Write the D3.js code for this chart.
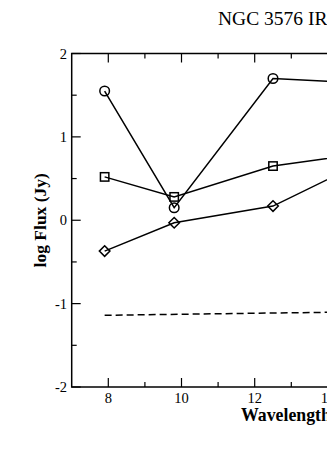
<!DOCTYPE html>
<html><head><meta charset="utf-8">
<script src="https://cdn.jsdelivr.net/npm/d3@7"></script>
<style>html,body{margin:0;padding:0;background:#fff;overflow:hidden}</style>
</head><body>
<svg id="c" width="327" height="459"></svg>
<script>
const wavelengths = [7.9, 9.8, 12.5, 14.65];
const circleSeries = [1.55, 0.15, 1.70, 1.65];
const squareSeries = [0.52, 0.28, 0.65, 0.78];
const diamondSeries = [-0.37, -0.03, 0.17, 0.63];
const dashedX = [7.9, 14.65];
const dashedSeries = [-1.14, -1.10];
const xMajorTicks = [8, 10, 12, 14, 16, 18, 20];
const xMinorTicks = [9, 11, 13, 15, 17, 19];
const yMajorTicks = [-2, -1, 0, 1, 2];
const yMinorTicks = [-1.5, -0.5, 0.5, 1.5];

const svg = d3.select("#c");
const x = d3.scaleLinear().domain([7, 20]).range([71.7, 71.7 + 13 * 36.6]);
const y = d3.scaleLinear().domain([-2, 2]).range([387, 53.5]);
const font = "'Liberation Serif', 'Times New Roman', serif";

// frame
svg.append("rect").attr("x", x(7)).attr("y", y(2)).attr("width", x(20) - x(7)).attr("height", y(-2) - y(2))
  .attr("fill", "none").attr("stroke", "#000").attr("stroke-width", 1.5);

// ticks inward
const tk = svg.append("g").attr("stroke", "#000").attr("stroke-width", 1.2);
xMajorTicks.forEach(v => {
  tk.append("line").attr("x1", x(v)).attr("x2", x(v)).attr("y1", y(-2)).attr("y2", y(-2) - 9);
  tk.append("line").attr("x1", x(v)).attr("x2", x(v)).attr("y1", y(2)).attr("y2", y(2) + 9);
});
xMinorTicks.forEach(v => {
  tk.append("line").attr("x1", x(v)).attr("x2", x(v)).attr("y1", y(-2)).attr("y2", y(-2) - 5);
  tk.append("line").attr("x1", x(v)).attr("x2", x(v)).attr("y1", y(2)).attr("y2", y(2) + 5);
});
yMajorTicks.forEach(v => {
  tk.append("line").attr("x1", x(7)).attr("x2", x(7) + 9).attr("y1", y(v)).attr("y2", y(v));
});
yMinorTicks.forEach(v => {
  tk.append("line").attr("x1", x(7)).attr("x2", x(7) + 5).attr("y1", y(v)).attr("y2", y(v));
});

// tick labels
svg.append("g").selectAll("text").data(xMajorTicks).join("text")
  .attr("x", d => x(d)).attr("y", 403).attr("text-anchor", "middle")
  .attr("font-family", font).attr("font-size", 14.5).attr("fill", "#000").text(d => d);
svg.append("g").selectAll("text").data(yMajorTicks).join("text")
  .attr("x", 67).attr("y", d => y(d) + 5).attr("text-anchor", "end")
  .attr("font-family", font).attr("font-size", 14.5).attr("fill", "#000").text(d => d);

// axis labels
svg.append("text").attr("x", 241).attr("y", 421).attr("text-anchor", "start")
  .attr("font-family", font).attr("font-size", 17.8).attr("font-weight", "bold").text("Wavelength (\u03bcm)");
svg.append("text").attr("transform", `translate(46,${(y(2) + y(-2)) / 2}) rotate(-90)`).attr("text-anchor", "middle")
  .attr("font-family", font).attr("font-size", 17.5).attr("font-weight", "bold").text("log Flux (Jy)");

// title
svg.append("text").attr("x", 218).attr("y", 25).attr("font-family", font).attr("font-size", 19.5)
  .text("NGC 3576 IRS");

const line = d3.line().x(d => x(d[0])).y(d => y(d[1]));
function series(vals, sym) {
  const pts = wavelengths.map((w, i) => [w, vals[i]]);
  svg.append("path").attr("d", line(pts)).attr("fill", "none").attr("stroke", "#000").attr("stroke-width", 1.5);
  const g = svg.append("g").attr("fill", "none").attr("stroke", "#000").attr("stroke-width", 1.5);
  pts.forEach(p => {
    const cx = x(p[0]), cy = y(p[1]);
    if (sym === "circle") g.append("circle").attr("cx", cx).attr("cy", cy).attr("r", 4.8);
    else if (sym === "square") g.append("rect").attr("x", cx - 4.2).attr("y", cy - 4.2).attr("width", 8.4).attr("height", 8.4);
    else g.append("path").attr("d", `M${cx},${cy - 5.3}L${cx + 5.3},${cy}L${cx},${cy + 5.3}L${cx - 5.3},${cy}Z`);
  });
}
series(circleSeries, "circle");
series(squareSeries, "square");
series(diamondSeries, "diamond");

svg.append("path").attr("d", line(dashedX.map((w, i) => [w, dashedSeries[i]])))
  .attr("fill", "none").attr("stroke", "#000").attr("stroke-width", 1.5).attr("stroke-dasharray", "7,4");
</script>
</body></html>
